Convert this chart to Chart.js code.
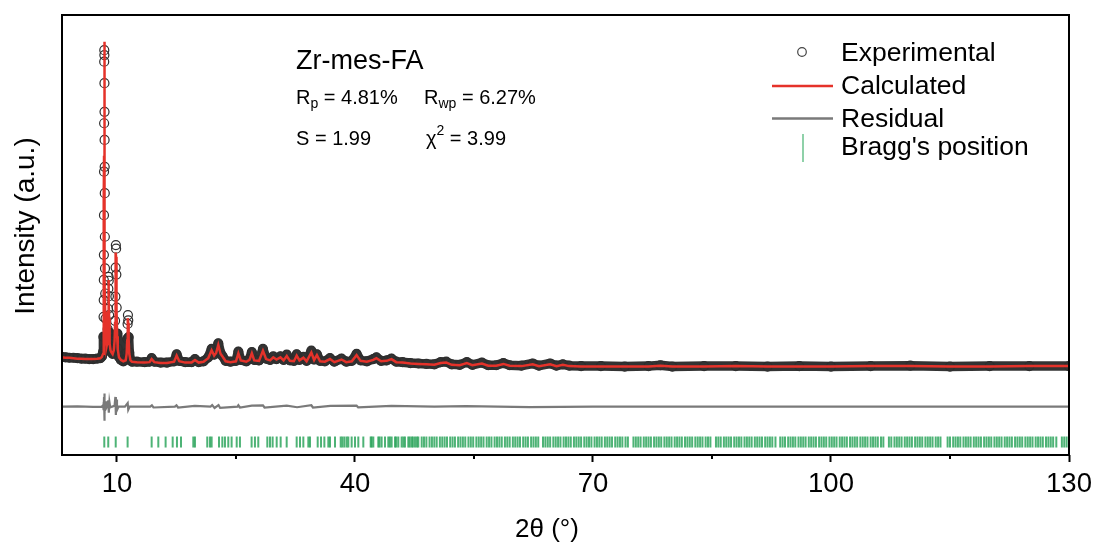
<!DOCTYPE html>
<html>
<head>
<meta charset="utf-8">
<title>Zr-mes-FA Rietveld refinement</title>
<script src="https://cdn.jsdelivr.net/npm/chart.js@4.4.1/dist/chart.umd.min.js"></script>
<style>
  html, body { margin: 0; padding: 0; background: #fff; }
  #wrap { width: 1098px; height: 548px; }
</style>
</head>
<body>
<div id="wrap"><canvas id="xrd" width="1098" height="548"></canvas></div>
<script>
// pattern, 2theta in degrees, intensity in arbitrary units (0-100)
const twoTheta = [
  3.0, 3.5, 4.0, 4.5, 5.0, 5.5, 6.0, 6.5, 7.0, 7.5, 7.9, 8.1, 8.2,
  8.26, 8.29, 8.31, 8.33, 8.34, 8.35, 8.36, 8.37, 8.38, 8.39, 8.40, 8.41, 8.42, 8.43, 8.44, 8.45, 8.46, 8.47, 8.49, 8.52, 8.56, 8.62, 8.68,
  8.75, 8.82, 8.87, 8.91, 8.94, 8.96, 8.98, 9.01, 9.05, 9.10, 9.18, 9.30,
  9.45, 9.60, 9.70, 9.76, 9.80, 9.83, 9.86, 9.89, 9.92, 9.96, 10.02, 10.10, 10.25, 10.50,
  10.80, 11.10, 11.22, 11.29, 11.34, 11.38, 11.42, 11.47, 11.55, 11.70, 11.90,
  12.5, 13.5, 14.1, 14.37, 14.7, 15.5, 16.3, 17.2, 17.52, 17.85, 18.6, 19.4, 19.83, 20.3, 20.9, 21.5, 21.93, 22.25, 22.5, 22.77, 23.05, 23.3, 23.7, 24.3,
  25.0, 25.3, 25.6, 26.3, 26.7, 27.0, 27.3, 27.9, 28.4, 28.8, 29.3, 29.7, 30.1, 30.6, 31.0, 31.4, 31.8, 32.3, 32.65, 33.0,
  33.5, 33.9, 34.5, 34.85, 35.2, 35.6, 36.2, 36.85, 37.4, 38.3, 38.9, 39.6, 40.2, 40.7, 41.5, 42.3, 42.7, 43.3, 44.0, 44.6, 45.2,
  46.0, 47.0, 48.0, 49.0, 50.0, 50.8, 51.5, 52.2, 53.2, 54.1, 54.8, 56.0, 56.8, 57.8, 58.7, 59.5, 61.0, 62.4, 63.2, 64.6, 65.4, 66.2, 67.0, 68.5,
  71, 74, 77, 78.5, 80, 84, 88, 92, 96, 100, 105, 110, 115, 120, 125, 130
];
const yObs = [
  22.3, 22.2, 22.1, 22.1, 22.0, 21.9, 21.9, 21.8, 21.8, 21.9, 22.0, 22.4, 23.0,
  23.5, 26.9, 31.4, 35.2, 39.8, 45.5, 54.5, 64.4, 75.4, 89.4, 92.0, 90.9, 84.5, 78.0, 71.6, 65.5, 59.5, 49.6, 42.4, 36.7, 31.0, 27.0, 24.6,
  25.5, 28.6, 33.2, 37.8, 40.5, 39.6, 36.1, 31.8, 27.8, 25.6, 24.0, 23.4,
  23.0, 24.0, 26.5, 30.5, 36.0, 42.6, 47.7, 46.9, 41.0, 33.5, 27.6, 24.2, 22.3, 21.6,
  21.3, 21.6, 23.2, 26.4, 29.8, 31.8, 30.6, 26.8, 23.3, 21.6, 21.2,
  21.2, 21.1, 21.2, 22.0, 21.2, 21.0, 21.0, 21.3, 22.9, 21.4, 21.1, 21.1, 21.8, 21.1, 21.3, 22.2, 24.1, 22.8, 23.5, 25.4, 23.2, 22.5, 21.4, 21.2,
  21.4, 23.5, 21.6, 21.3, 21.8, 23.4, 21.6, 21.5, 24.1, 21.9, 21.6, 22.4, 21.8, 22.4, 21.6, 22.8, 21.5, 21.4, 22.9, 21.6,
  22.3, 21.4, 23.7, 21.7, 22.9, 21.4, 21.3, 22.0, 21.2, 21.9, 21.2, 21.4, 23.0, 21.5, 21.3, 21.8, 22.2, 21.4, 21.5, 21.9, 21.2,
  21.1, 20.9, 20.8, 20.7, 20.6, 21.1, 21.2, 20.6, 20.5, 21.1, 20.5, 21.0, 20.4, 20.4, 20.9, 20.4, 20.3, 20.8, 20.3, 20.8, 20.3, 20.6, 20.3, 20.2,
  20.2, 20.1, 20.2, 20.4, 20.1, 20.2, 20.2, 20.1, 20.2, 20.1, 20.2, 20.3, 20.1, 20.2, 20.2, 20.2
];
const yCalc = [
  22.2, 22.1, 22.1, 22.0, 21.9, 21.9, 21.8, 21.8, 21.8, 21.9, 22.0, 22.3, 22.8,
  23.0, 25.5, 29.0, 34.0, 40.0, 48.0, 58.0, 68.0, 79.0, 88.0, 93.9, 90.0, 83.0, 75.0, 68.0, 61.0, 54.0, 47.0, 39.0, 32.5, 28.0, 25.5, 24.6,
  25.2, 28.0, 32.5, 37.5, 39.8, 39.2, 35.5, 31.0, 27.5, 25.3, 23.8, 23.3,
  22.9, 23.8, 26.0, 30.0, 35.5, 42.0, 46.0, 45.0, 40.0, 33.0, 27.0, 24.0, 22.2, 21.6,
  21.3, 21.5, 23.0, 26.0, 29.5, 31.1, 30.0, 26.3, 23.0, 21.5, 21.2,
  21.1, 21.0, 21.1, 21.8, 21.1, 20.9, 20.9, 21.2, 22.6, 21.3, 21.0, 21.0, 21.6, 21.0, 21.2, 22.0, 23.8, 22.6, 23.2, 25.0, 23.0, 22.4, 21.3, 21.1,
  21.3, 23.1, 21.5, 21.2, 21.6, 23.1, 21.5, 21.4, 23.7, 21.8, 21.5, 22.2, 21.7, 22.2, 21.5, 22.5, 21.4, 21.3, 22.6, 21.5,
  22.1, 21.3, 23.3, 21.6, 22.7, 21.3, 21.2, 21.8, 21.1, 21.7, 21.1, 21.3, 22.7, 21.4, 21.2, 21.6, 22.0, 21.3, 21.4, 21.8, 21.1,
  21.0, 20.8, 20.7, 20.6, 20.5, 20.9, 21.0, 20.5, 20.4, 20.9, 20.4, 20.8, 20.3, 20.3, 20.7, 20.3, 20.2, 20.6, 20.2, 20.6, 20.2, 20.5, 20.2, 20.1,
  20.1, 20.1, 20.1, 20.3, 20.1, 20.1, 20.2, 20.1, 20.1, 20.1, 20.2, 20.2, 20.1, 20.1, 20.2, 20.2
];

// difference curve (shifted below the pattern)
const diffTheta = [
  3.0, 5.0, 7.0, 8.1, 8.25, 8.30, 8.34, 8.37, 8.40, 8.43,
  8.46, 8.50, 8.60, 8.80, 8.90, 8.97, 9.05, 9.15, 9.40, 9.70,
  9.80, 9.86, 9.92, 10.00, 10.20, 11.00, 11.35, 11.42, 11.60, 14.2,
  14.4, 14.6, 17.3, 17.5, 17.7, 19.8, 21.8, 22.0, 22.3, 22.8,
  23.0, 25.2, 25.3, 25.5, 27.0, 28.4, 28.6, 31.4, 32.7, 34.5,
  34.7, 36.9, 40.2, 40.4, 44.6, 50, 54, 62, 70, 100,
  130
];
const yDiff = [
  11.0, 11.05, 10.95, 11.0, 11.3, 12.0, 10.2, 13.2, 7.8, 14.0,
  9.2, 12.2, 10.5, 11.2, 12.4, 9.6, 12.0, 10.8, 11.0, 11.2,
  13.2, 9.1, 12.6, 10.2, 11.0, 11.0, 11.8, 10.3, 11.0, 11.0,
  11.3, 10.8, 11.0, 11.3, 10.8, 11.15, 11.0, 11.35, 10.7, 11.35,
  10.7, 11.0, 11.3, 10.8, 11.2, 11.3, 10.8, 11.2, 10.85, 11.3,
  10.8, 11.15, 11.2, 10.85, 11.15, 11.0, 11.1, 10.9, 11.0, 11.0,
  11.0
];

// reflection positions
const braggPos = [
  8.40, 8.90, 9.84, 11.34, 14.37, 15.21, 16.13, 17.02, 17.56, 18.07, 19.62, 19.83,
  21.38, 21.72, 21.93, 22.86, 23.28, 23.61, 24.03, 24.45, 25.09, 25.50, 26.97, 27.39, 27.81,
  28.95, 29.29, 29.62, 30.13, 30.63, 31.39, 32.65, 33.07, 33.49, 34.12, 34.33, 35.30, 35.72,
  36.14, 36.64, 36.85, 37.48, 38.20, 38.41, 38.66, 38.95, 39.16, 39.58, 40.00, 40.42, 41.05,
  41.98, 42.10, 42.31, 42.94, 43.10, 43.36, 43.78, 44.20, 44.40, 44.62, 45.04, 45.20, 45.46,
  45.88, 46.10, 46.30, 46.72, 46.90, 47.14, 47.30, 47.56, 47.80, 47.98, 48.41,
  48.7, 49.0, 49.4, 49.7, 50.0, 50.3, 50.7, 51.0, 51.3, 51.6, 52.0, 52.3, 52.6, 53.0, 53.3,
  53.6, 53.9, 54.3, 54.6, 54.9, 55.3, 55.6, 55.9, 56.2, 56.6, 56.9, 57.2, 57.6, 57.9, 58.2,
  58.5, 58.9, 59.2, 59.5, 59.9, 60.2, 60.5, 60.8, 61.2, 61.5, 61.8, 62.2, 62.5, 62.8, 63.1,
  63.7, 64.0, 64.3, 64.6, 65.0, 65.3, 65.6, 65.9, 66.3, 66.6, 66.9, 67.2, 67.6, 67.9, 68.2,
  68.5, 68.9, 69.2, 69.5, 69.8, 70.2, 70.5, 70.8, 71.1, 71.5, 71.8, 72.1, 72.4, 72.8, 73.1,
  73.4, 73.7, 74.1, 74.4,
  75.1, 75.4, 75.7, 76.0, 76.4, 76.7, 77.0, 77.3, 77.7, 78.0, 78.3, 78.6, 79.0, 79.3, 79.6,
  79.9, 80.3, 80.6, 80.9, 81.2, 81.6, 81.9, 82.2, 82.5, 82.9, 83.2, 83.5, 83.8, 84.2, 84.5, 84.8,
  85.5, 85.8, 86.1, 86.5, 86.8, 87.1, 87.4, 87.8, 88.1, 88.4, 88.7, 89.1, 89.4, 89.7, 90.0,
  90.4, 90.7, 91.0, 91.3, 91.7, 92.0, 92.3, 92.6, 93.0,
  93.6, 93.9, 94.2, 94.6, 94.9, 95.2, 95.5, 95.9, 96.2, 96.5, 96.8, 97.2, 97.5, 97.8, 98.1,
  98.5, 98.8, 99.1, 99.4, 99.8, 100.1, 100.4, 100.7, 101.1, 101.4, 101.7, 102.0, 102.4, 102.7,
  103.0, 103.3, 103.7, 104.0, 104.3, 104.6, 105.0, 105.3, 105.6, 105.9, 106.3, 106.6,
  107.3, 107.6, 108.0, 108.3, 108.6, 108.9, 109.3, 109.6, 109.9, 110.2, 110.6, 110.9, 111.2,
  111.5, 111.9, 112.2, 112.5, 112.8, 113.2, 113.5, 113.8,
  114.7, 115.0, 115.4, 115.7, 116.0, 116.3, 116.7, 117.0, 117.3, 117.6, 118.0, 118.3, 118.6,
  118.9, 119.3, 119.6, 119.9, 120.2, 120.6, 120.9, 121.2, 121.5, 121.9, 122.2, 122.5, 122.8,
  123.2, 123.5, 123.8, 124.1, 124.5, 124.8, 125.1, 125.4, 125.8, 126.1, 126.4, 126.7, 127.1,
  127.4, 127.7, 128.0, 128.4, 129.1, 129.4, 129.7
];
const braggLevel = 2.95;

const xTicks = [10, 40, 70, 100, 130];
const xMinorTicks = [25, 55, 85, 115];

const FONT = "'Liberation Sans', Arial, sans-serif";
const RED = '#e5322a';
const GREY = '#7a7a7a';
const DARK = '#333333';

if (twoTheta.length !== yObs.length || twoTheta.length !== yCalc.length) {
  console.warn('pattern arrays differ in length', twoTheta.length, yObs.length, yCalc.length);
}

// draws a string made of pieces with different size / vertical shift (sub and superscripts)
function drawRich(ctx, x, y, parts) {
  parts.forEach(([txt, size, dy]) => {
    ctx.font = size + 'px ' + FONT;
    ctx.fillText(txt, x, y + dy);
    x += ctx.measureText(txt).width;
  });
}

const decorPlugin = {
  id: 'decor',
  afterDatasetsDraw(chart) {
    const { ctx, chartArea: a, scales: { x } } = chart;
    ctx.save();
    ctx.strokeStyle = '#000';
    ctx.lineWidth = 2;
    ctx.strokeRect(a.left, a.top, a.right - a.left, a.bottom - a.top);

    // minor ticks on the 2theta axis
    ctx.beginPath();
    xMinorTicks.forEach(v => {
      const px = x.getPixelForValue(v);
      ctx.moveTo(px, a.bottom);
      ctx.lineTo(px, a.bottom + 4);
    });
    ctx.stroke();

    ctx.fillStyle = '#000';
    ctx.textBaseline = 'alphabetic';

    // axis titles
    ctx.textAlign = 'center';
    ctx.font = '26px ' + FONT;
    ctx.fillText('2\u03b8 (\u00b0)', 547, 537);
    ctx.save();
    ctx.translate(34, 226);
    ctx.rotate(-Math.PI / 2);
    ctx.font = '28px ' + FONT;
    ctx.fillText('Intensity (a.u.)', 0, 0);
    ctx.restore();

    // sample name and fit figures
    ctx.textAlign = 'left';
    drawRich(ctx, 296, 69, [['Zr-mes-FA', 27, 0]]);
    drawRich(ctx, 296, 104, [['R', 20, 0], ['p', 14, 4], [' = 4.81%', 20, 0]]);
    drawRich(ctx, 424, 104, [['R', 20, 0], ['wp', 14, 4], [' = 6.27%', 20, 0]]);
    drawRich(ctx, 296, 145, [['S = 1.99', 20, 0]]);
    drawRich(ctx, 426, 145, [['\u03c7', 20, 0], ['2', 14, -10], [' = 3.99', 20, 0]]);

    // legend
    const ds = chart.data.datasets;
    const lx = 841;
    ctx.font = '26.5px ' + FONT;
    ctx.lineWidth = 1.2;
    ctx.strokeStyle = '#444';
    ctx.beginPath();
    ctx.arc(802, 52, 4.3, 0, Math.PI * 2);
    ctx.stroke();
    ctx.fillText(ds[3].label, lx, 61);

    ctx.lineWidth = 2.5;
    ctx.strokeStyle = RED;
    ctx.beginPath(); ctx.moveTo(772, 86); ctx.lineTo(833, 86); ctx.stroke();
    ctx.fillText(ds[0].label, lx, 94);

    ctx.strokeStyle = GREY;
    ctx.beginPath(); ctx.moveTo(772, 118.5); ctx.lineTo(833, 118.5); ctx.stroke();
    ctx.fillText(ds[1].label, lx, 127);

    ctx.lineWidth = 2;
    ctx.strokeStyle = '#8fd1a9';
    ctx.beginPath(); ctx.moveTo(803, 134); ctx.lineTo(803, 162); ctx.stroke();
    ctx.fillText(ds[2].label, lx, 155);
    ctx.restore();
  }
};

const chart = new Chart(document.getElementById('xrd'), {
  type: 'scatter',
  data: {
    datasets: [
      {
        label: 'Calculated',
        data: twoTheta.map((x, i) => ({ x, y: yCalc[i] })),
        showLine: true,
        borderColor: RED,
        borderWidth: 2.5,
        pointRadius: 0,
        order: 0
      },
      {
        label: 'Residual',
        data: diffTheta.map((x, i) => ({ x, y: yDiff[i] })),
        showLine: true,
        borderColor: GREY,
        borderWidth: 2.2,
        pointRadius: 0,
        order: 1
      },
      {
        label: "Bragg's position",
        data: braggPos.map(x => ({ x, y: braggLevel })),
        showLine: false,
        pointStyle: 'line',
        pointRotation: 90,
        pointRadius: 5.5,
        pointBorderWidth: 2,
        pointBorderColor: 'rgba(34, 160, 84, 0.8)',
        order: 2
      },
      {
        label: 'Experimental',
        data: twoTheta.map((x, i) => ({ x, y: yObs[i] })),
        showLine: true,
        borderColor: DARK,
        borderWidth: 9.5,
        borderCapStyle: 'round',
        borderJoinStyle: 'round',
        // the steep flanks of the strong peaks show only the open circles
        segment: {
          borderColor: c => Math.max(c.p0.parsed.y, c.p1.parsed.y) > 28 ? 'rgba(0,0,0,0)' : undefined
        },
        pointStyle: 'circle',
        pointRadius: 4.5,
        pointBorderWidth: 1.2,
        pointBorderColor: '#2e2e2e',
        pointBackgroundColor: 'rgba(255,255,255,0)',
        order: 3
      }
    ]
  },
  options: {
    responsive: false,
    animation: false,
    devicePixelRatio: 1,
    events: [],
    layout: { padding: { top: 15, right: 29, left: 0, bottom: 0 } },
    plugins: { legend: { display: false }, tooltip: { enabled: false } },
    scales: {
      x: {
        type: 'linear',
        min: 3.07,
        max: 130,
        afterBuildTicks: s => { s.ticks = xTicks.map(v => ({ value: v })); },
        afterFit: s => { s.height = 93; },
        ticks: {
          autoSkip: false,
          maxRotation: 0,
          padding: 6,
          color: '#000',
          font: { family: FONT, size: 27.5 }
        },
        grid: {
          display: true,
          drawOnChartArea: false,
          drawTicks: true,
          tickLength: 7,
          tickWidth: 2,
          tickColor: '#000'
        },
        border: { display: false }
      },
      y: {
        type: 'linear',
        min: 0,
        max: 100,
        afterFit: s => { s.width = 62; },
        ticks: { display: false },
        grid: { display: false },
        border: { display: false }
      }
    }
  },
  plugins: [decorPlugin]
});
</script>
</body>
</html>
